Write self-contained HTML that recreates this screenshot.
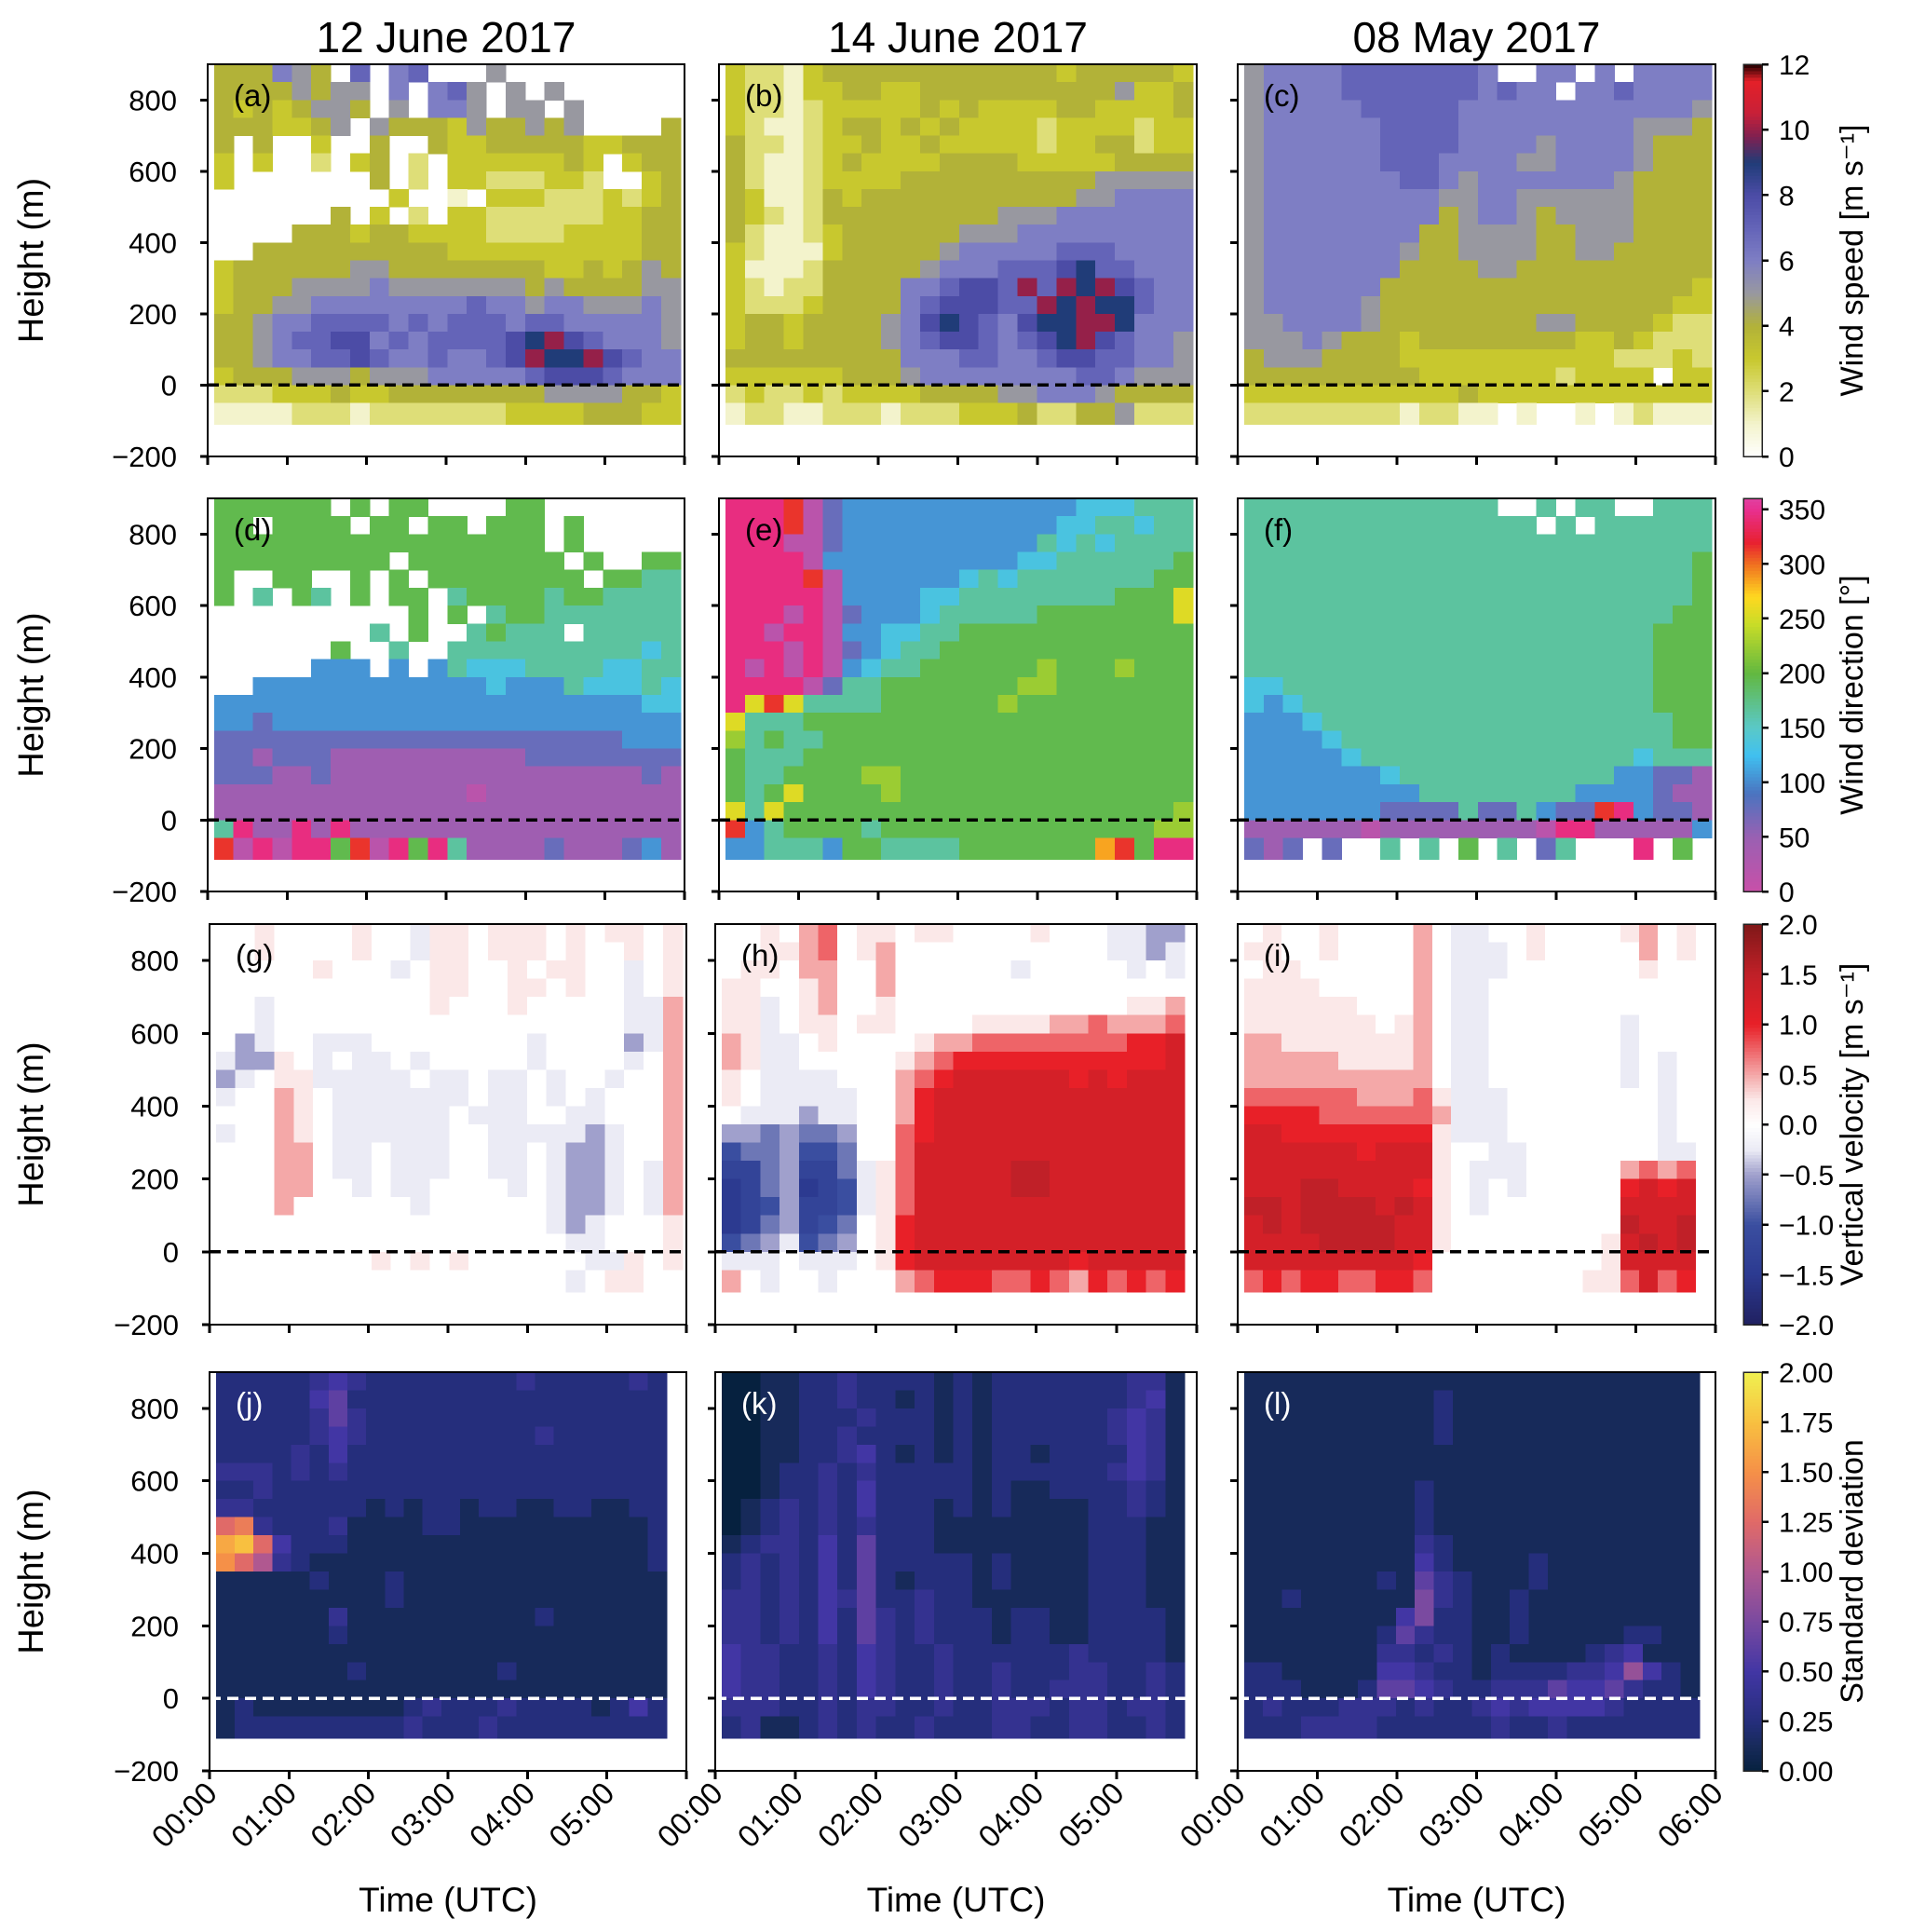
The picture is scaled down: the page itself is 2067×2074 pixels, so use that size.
<!DOCTYPE html>
<html><head><meta charset="utf-8"><style>
html,body{margin:0;padding:0;background:#fff;}
svg{display:block;}
text{font-family:"Liberation Sans","DejaVu Sans",sans-serif;}
</style></head><body>
<svg id="fig" width="2067" height="2074" viewBox="0 0 2067 2074" xmlns="http://www.w3.org/2000/svg" shape-rendering="crispEdges"></svg>
<script>
// ---------------- DATA (rows top=900m down to bottom -110m, 24 time columns) ----------------
const speedA = ["444654.7.67...5.........","44445455.6.675.5.5......","43434554.5.665.55.5.....","4443345.54443544545....4","4.4..3..4..4334444433444","3.3..2.34.2.33333343.344","3.......4.2.33222332..34",".........3..1.3332223234","......4.3.2.332222223344","....44434433332222333344","..4444444444333333333344","344444455444444443343454","344455556555555545444455","344556666666676656655565","445667777676777677666665","44567788676777789a876665","4456677876676678a99a8766","344455545556666678887666","222333433444444445555443","111122212222222333344433"];
const speedB = ["322134444444444443444443","322133443344444444445334","322123333343433334433334","321123443434333323333233","422123343343333323344233","421123433334444333334444","421123333444444444455555","431124344444444444556666","432124444444445556666666","421123444444555666666666","321113444445666667776666","311124444456667778977666","321224444667887a7a9a8766","3222344446788877a9a99766","344344445689876899aa9666","344344445678876789a87665","444444444666776678877665","333333444566666666776555","232232333344445566654444","122112221222333422445222"];
const speedC = ["5666677777776..66.6.6666","5666677777776766.6676666","566666777776666666666665","566666677776666666665554","566666677776666566665444","566666677766665566665444","566666667765666666654444","566666666655665555554444","566666666645665455554444","566666666445555445554444","566666665445555445544444","566666664444554444444444","566666644444444444444443","566666544444444444444433","556666544444444554444322","555654443444444443343222","455544443333333333322232","444444444333333323333.33","333333333334333333333333","2222222212211.1..1.12111"];
const dirD = ["666666.6.66....66.......","66.6666.66.66.666.6.....","66666666666666666.6.....","666666666.66666666.6..66","6..66..6.6.66666666.6655","6.5.65.6.66.566665665555","..........6.6.5665555555","........5.6..56555.55555","......6..5..555555555545",".....333.3.3544455554455","..3333333333334333544454","333333333333333333333344","332333333333333333333333","222222222222222222222333","221222111111111122222222","222112111111111111111121","111111111111101111111111","111111111111111111111111","5b11b1b11111111111111111","a0b0bb6a0b6b511112111231"];
const dirE = ["bbba02333333333333444555","bbba02333333333334455455","bbb002333333333354545555","bbbb03333333333445555556","bbbba0333333454555555566","bbbbb0333344555555556668","bbb0b0233345555566666668","bb0bb0334455666666666666","bbb0b0234556666666666666","b0b0b0345566666676667666","bbbb02556666666776666666","b8a855556666667666666666","855566666666666666666666","756556666666666666666666","655566666666666666666666","655666677666666666666666","656866667666666666666666","858666666666666666666667","a35666656666666666666677","33555366555566666669a6bb"];
const dirF = ["5555555555555..5.55..555","555555555555555.5.555555","555555555555555555555555","555555555555555555555556","555555555555555555555556","555555555555555555555556","555555555555555555555566","555555555555555555555666","555555555555555555555666","555555555555555555555666","445555555555555555555666","434555555555555555555666","333455555555555555555566","333345555555555555555566","333334555555555555554555","333333345555555555533221","333333333555555553333211","333333322225225322ab3221","1111110111111110bb111113","212.2..5.5.6.5.25...b.6."];
const vvG = ["IIJIIIIJIIHJJIJJJIJIJJIJ","IIJIIIIJIIHJJIJJJIJIIJIJ","IIIIIJIIIHIJJIIJIJJIIHIJ","IIIIIIIIIIIJJIIJJIJIIHIJ","IIHIIIIIIIIJIIIJIIIIIHHK","IIHIIIIIIIIIIIIIIIIIIHHK","IGHIIHHHIIIIIIIIHIIIIGHK","HGGJIHIHHIHIIIIIHIIIIHIK","GHIJJHHHHHIHHIHHIHIIHIIK","HIIKJIHHHHHHHIHHIHIHIIIK","IIIKJIHHHHHHIHHHIIHHIIIK","HIIKJIHHHHHHIIHHHHHGHIIK","IIIKKIHHIHHHIIHHIHGGHIIK","IIIKKIHHIHHHIIHHIHGGHIHK","IIIKKIIHIHHIIIIHIHGGHIHK","IIIKIIIIIIHIIIIIIHGGHIHK","IIIIIIIIIIIIIIIIIHGHIIIJ","IIIIIIIIIIIIIIIIIIHHIIIJ","IIIIIIIIJIJIJIIIIIIHHJIJ","IIIIIIIIIIIIIIIIIIHIJJII"];
const vvH = ["IIJIKLIJJIJJIIIIJIIIHHGG","IIJJKLIJKIIIIIIIIIIIHHGH","IJJIKKIIKIIIIIIHIIIIIHIH","JJIIJKIIKIIIIIIIIIIIIIII","JJHIJKIIJIIIIIIIIIIIIJJK","JJHIJJIJJIIIIJJJJKKLKKKL","KJHHIJIIIIJKKLLLLLLLLMMN","KJHHIIIIIJKLMMMMMMMMMMMN","JIHHHHIIIKLMNNNNNNMNMNNN","JIHHHHHIIKMNNNNNNNNNNNNN","IHHHGHHIIKMNNNNNNNNNNNNN","GGFGFFGIILMNNNNNNNNNNNNN","EFFGEEFIILNNNNNNNNNNNNNN","DDFGDDFHJLNNNNNOONNNNNNN","CDFGCDEHJLNNNNNOONNNNNNN","CDEGDDEHJLNNNNNNNNNNNNNN","CDFGDEFIJMNNNNNNNNNNNNNN","EFGHEFGIJMNNNNNNNNNNNNNN","HHHIHHHIJMNNNNNNNNMNNNNN","KIHIIHIIIKLMMMLLMLKMLMLM"];
const vvI = ["IJIIJIIIIKIHHIIJIIIIJKIJ","JJIIJIIIIKIHHHIJIIIIIKIJ","IJJIIIIIIKIHHHIIIIIIIJII","JJJJIIIIIKIHHIIIIIIIIIII","JJJJJJIIIKIHHIIIIIIIIIII","JJJJJJJIJKIHHIIIIIIIHIII","KKJJJJJJJKIHHIIIIIIIHIII","KKKKKJJJJKIHHIIIIIIIHIHI","KKKKKKKKKKIHHIIIIIIIHIHI","LLLLLLKKKLJHHHIIIIIIIIHI","MMMMLLLLLLKHHHIIIIIIIIHI","NNMMMMMMMMJHHHIIIIIIIIHI","NNNNNNMNNNJIIHHIIIIIIIHH","NNNNNNNNNNJIHHHIIIIIKLKL","NNNOONNNNMJIHIHIIIIIMNMN","OONOOOONONJIHIIIIIIINNNN","NONOOOOONNJIIIIIIIIIONNO","NNNNOOOONNJIIIIIIIIJNONO","NNNNNNNNNMIIIIIIIIIJNNNN","LMLMMLLMMLIIIIIIIIJJLNLM"];
const sdJ = ["CCCCCDEDCCCCCCCCDCCCCCDC","CCCCCEFCCCCCCCCCCCCCCCCC","CCCCCDFDCCCCCCCCCCCCCCCC","CCCCCDEDCCCCCCCCCDCCCCCC","CCCCDCECCCCCCCCCCCCCCCCC","DDDCDCDCCCCCCCCCCCCCCCCC","CCDCCCCCCCCCCCCCCCCCCCCC","DDCCCCCCBCBCCBCCBBCCBBCC","KLDCCCDBBBBCCBBBBBBBBBBC","NOKECCCBBBBBBBBBBBBBBBBC","MKIDCBBBBBBBBBBBBBBBBBBC","BBBBBCBBBCBBBBBBBBBBBBBB","BBBBBBBBBCBBBBBBBBBBBBBB","BBBBBBDBBBBBBBBBBCBBBBBB","BBBBBBCBBBBBBBBBBBBBBBBB","BBBBBBBBBBBBBBBBBBBBBBBB","BBBBBBBCBBBBBBBCBBBBBBBB","BBBBBBBBBBBBBBBBBBBBBBBB","BCBBBBBBBBCDCCCDCCCCBCEC","BCCCCCCCCCDCCCDCCCCCCCCC"];
const sdK = ["AABBCCDCCCCBCBCCCCCCCDDB","AABBCCDCCBCBCBCCCCCCCDEB","AABBCCCDCCCBCBCCCCCCDEDB","AABBCCDCCCCBCBCCCCCCDEDB","AABBCCDECBCBCBCCBCCCCEDB","AABCCDCDCCCCCBCCCCCCDEDB","AABCCDCECCCCCBCBBCCCCDCB","ABCDCDCECCCBCBCBBBBCCDCB","ABCDCDCDCCCBBBBBBBBCCCBB","BCDDCECFCCCBBBBBBBBCCCBB","CDCDCECFCCCCCBCBBBBCCCBB","CDCDCECFCBCCCBCBBBBCCCBB","DDCDCEDFCCDCCBBBBBBCCCBB","DDCDCECFDCDCCCBCCBBCCCCB","DDCDCECFDCDCCCBCCBBCCCCB","EDDCCDCEDCCDCCCCCCDCCCCB","EDDCCDCEDCCDCCDCCCDDCCDC","EDDCCDCEDCCDCCDCCDDDCCDC","DDDCCDCDDCCDCCDDDCDDCDDC","CDBBCDCDCCDCCCDDCCDDCCDC"];
const sdL = ["BBBBBBBBBBBBBBBBBBBBBBBB","BBBBBBBBBBCBBBBBBBBBBBBB","BBBBBBBBBBCBBBBBBBBBBBBB","BBBBBBBBBBCBBBBBBBBBBBBB","BBBBBBBBBBBBBBBBBBBBBBBB","BBBBBBBBBBBBBBBBBBBBBBBB","BBBBBBBBBCBBBBBBBBBBBBBB","BBBBBBBBBCBBBBBBBBBBBBBB","BBBBBBBBBCBBBBBBBBBBBBBB","BBBBBBBBBDCBBBBBBBBBBBBB","BBBBBBBBBECBBBBCBBBBBBBB","BBBBBBBCBFDCBBBCBBBBBBBB","BBCBBBBBBGDCBBCBBBBBBBBB","BBBBBBBBEGCCBBCBBBBBBBBB","BBBBBBBCFDCCBBCBBBBBCCBB","BBBBBBBDDCDCBCBBBBCDEBBB","CCBBBBBEEDCCBCCCCDDEHECB","CCCBBBCFFEDCCDDDFEEFDCCB","CDCCCDDDCDCCDEDEEEEDCCCC","CCCDDDDCCCCCCDCCDCCCCCCC"];
const yTicks = [-200,0,200,400,600,800];
const xTicks = [0,1,2,3,4,5,6];
const xTickLabels = ["00:00","01:00","02:00","03:00","04:00","05:00","06:00"];
const colTitles = ["12 June 2017","14 June 2017","08 May 2017"];
const panelLetters = ["(a)","(b)","(c)","(d)","(e)","(f)","(g)","(h)","(i)","(j)","(k)","(l)"];
const speedTicks = [0,2,4,6,8,10,12];
const dirTicks = [0,50,100,150,200,250,300,350];
const vvTicks = [-2.0,-1.5,-1.0,-0.5,0.0,0.5,1.0,1.5,2.0];
const sdTicks = [0,0.25,0.5,0.75,1.0,1.25,1.5,1.75,2.0];

const NS="http://www.w3.org/2000/svg";
const svg=document.getElementById('fig');
function mk(tag,attrs,parent){const e=document.createElementNS(NS,tag);for(const k in attrs)e.setAttribute(k,attrs[k]);(parent||svg).appendChild(e);return e;}
function hex(h){return [parseInt(h.slice(1,3),16),parseInt(h.slice(3,5),16),parseInt(h.slice(5,7),16)];}
function cmap(stops){return v=>{if(v<=stops[0][0])return stops[0][1];for(let i=1;i<stops.length;i++){if(v<=stops[i][0]){const a=stops[i-1],b=stops[i];const f=(v-a[0])/(b[0]-a[0]);const ca=hex(a[1]),cb=hex(b[1]);return 'rgb('+ca.map((c,j)=>Math.round(c+(cb[j]-c)*f)).join(',')+')';}}return stops[stops.length-1][1];};}
const cmSpeed=cmap([[0,'#ffffff'],[1,'#f3f3cc'],[2,'#dede78'],[3,'#c8c82e'],[4,'#b2b238'],[5,'#9898a0'],[6,'#7e7ec4'],[7,'#6464b8'],[8,'#4c4ca6'],[9,'#203c78'],[9.8,'#802050'],[10.5,'#c82038'],[11.5,'#e42028'],[12,'#200000']]);
const cmDir=cmap([[0,'#c84fa8'],[50,'#9a60b2'],[90,'#4a74c0'],[125,'#40c0f0'],[150,'#5ac8c8'],[200,'#62b840'],[245,'#c8dc28'],[270,'#ffd820'],[300,'#f07020'],[320,'#e82030'],[350,'#e83090'],[360,'#e040a0']]);
const cmVV=cmap([[-2,'#202060'],[-1.5,'#2c3a90'],[-1,'#3a4ea0'],[-0.5,'#a0a0cc'],[-0.25,'#ebebf5'],[0,'#ffffff'],[0.25,'#fbe8e8'],[0.5,'#f4a8a8'],[1,'#e82028'],[1.5,'#c02028'],[2,'#801818']]);
const cmSD=cmap([[0,'#06213f'],[0.125,'#172a5a'],[0.25,'#252e7c'],[0.5,'#4236a4'],[0.75,'#7a4aa0'],[1.0,'#b05890'],[1.25,'#e06a68'],[1.5,'#f59048'],[1.75,'#f8c040'],[2,'#f0f050']]);
const dec={
 speed:c=>c==='.'?null:parseInt(c,16),
 dir:c=>c==='.'?null:parseInt(c,16)*30+15,
 vv:c=>c==='.'?null:(c.charCodeAt(0)-73)*0.25,
 sd:c=>c==='.'?null:(c.charCodeAt(0)-65)*0.125
};

const colX=[[223,735],[772,1285],[1329,1842]];
const colX2=[[225,737],[768,1285],[1329,1842]];
const rowY=[[69,490],[535,957],[992,1422],[1473,1901]];
const panels=[
 {d:speedA,k:'speed',cm:cmSpeed,t1:5.95},{d:speedB,k:'speed',cm:cmSpeed,t1:5.95},{d:speedC,k:'speed',cm:cmSpeed,t1:5.95},
 {d:dirD,k:'dir',cm:cmDir,t1:5.95},{d:dirE,k:'dir',cm:cmDir,t1:5.95},{d:dirF,k:'dir',cm:cmDir,t1:5.95},
 {d:vvG,k:'vv',cm:cmVV,t1:5.95},{d:vvH,k:'vv',cm:cmVV,t1:5.85},{d:vvI,k:'vv',cm:cmVV,t1:5.75},
 {d:sdJ,k:'sd',cm:cmSD,t1:5.75},{d:sdK,k:'sd',cm:cmSD,t1:5.85},{d:sdL,k:'sd',cm:cmSD,t1:5.8}
];

colTitles.forEach((t,i)=>{const e=mk('text',{x:(colX[i][0]+colX[i][1])/2,y:56,'text-anchor':'middle','font-size':46},svg);e.textContent=t;

});

panels.forEach((p,idx)=>{
 const r=Math.floor(idx/3),c=idx%3;
 const [x0,x1]=(r>=2?colX2:colX)[c];const [y0,y1]=rowY[r];
 const xs=t=>x0+(t/6)*(x1-x0);
 const ys=v=>y0+(900-v)/1100*(y1-y0);
 const g=mk('g',{},svg);
 
 
 const rows=p.d.length, ncol=24, t0=0.08;
 for(let ri=0;ri<rows;ri++){
  const top=900-50*ri, bot=(ri===rows-1)?-110:900-50*(ri+1);
  const s=p.d[ri];
  for(let ci=0;ci<ncol;ci++){
   const ch=s[ci]||'.';const v=dec[p.k](ch);if(v===null||isNaN(v))continue;
   const ta=t0+(p.t1-t0)*ci/ncol, tb=t0+(p.t1-t0)*(ci+1)/ncol;
   const xa=xs(ta),xb=xs(tb),ya=ys(top),yb=ys(bot);
   const cell=mk('rect',{x:xa.toFixed(2),y:ya.toFixed(2),width:(xb-xa+0.6).toFixed(2),height:(yb-ya+0.6).toFixed(2),fill:p.cm(v)},g);
   
   
  }
 }
 const zl=mk('line',{x1:x0,x2:x1,y1:ys(0),y2:ys(0),stroke:r===3?'#fff':'#000','stroke-width':3.5,'stroke-dasharray':'12 7'},g);
 
 
 const fr=mk('rect',{x:x0,y:y0,width:x1-x0,height:y1-y0,fill:'none',stroke:'#000','stroke-width':2},g);
 
 
 yTicks.forEach(v=>{mk('line',{x1:x0-8,x2:x0,y1:ys(v),y2:ys(v),stroke:'#000','stroke-width':3},g);
  if(c===0){const tl=mk('text',{x:x0-33,y:ys(v)+11,'text-anchor':'end','font-size':31},g);tl.textContent=(v<0?'\u2212'+(-v):''+v);
  
  }
 });
 xTicks.forEach((t,i)=>{mk('line',{x1:xs(t),x2:xs(t),y1:y1,y2:y1+9,stroke:'#000','stroke-width':3},g);
  if(r===3){const lx=xs(t)+10,ly=y1+26;const tl=mk('text',{x:lx,y:ly,'text-anchor':'end','font-size':33,transform:'rotate(-45 '+lx+' '+ly+')'},g);tl.textContent=xTickLabels[i];
  
  
  if(c<2 && i===6) tl.textContent='';}
 });
 const pl=mk('text',{x:x0+28,y:y0+45,'font-size':33,fill:r===3?'#fff':'#000'},g);pl.textContent=panelLetters[idx];
 
 
 if(c===0){const cy=(y0+y1)/2;const yl=mk('text',{x:46,y:cy,'text-anchor':'middle','font-size':38,transform:'rotate(-90 46 '+cy+')'},svg);yl.textContent='Height (m)';
  
  }
 if(r===3){const xl=mk('text',{x:(x0+x1)/2,y:2052,'text-anchor':'middle','font-size':37},svg);xl.textContent='Time (UTC)';
  
  }
});

const cbars=[
 {cm:cmSpeed,lo:0,hi:12,ticks:speedTicks,fmt:v=>''+v,title:'Wind speed [m s⁻¹]'},
 {cm:cmDir,lo:0,hi:360,ticks:dirTicks,fmt:v=>''+v,title:'Wind direction [°]'},
 {cm:cmVV,lo:-2,hi:2,ticks:vvTicks,fmt:v=>(v<0?'\u2212':'')+Math.abs(v).toFixed(1),title:'Vertical velocity [m s⁻¹]'},
 {cm:cmSD,lo:0,hi:2,ticks:sdTicks,fmt:v=>v.toFixed(2),title:'Standard deviation'}
];
cbars.forEach((cb,r)=>{
 const [y0,y1]=rowY[r];const x0=1872,x1=1892;
 const g=mk('g',{},svg);
 
 
 const n=120;
 for(let i=0;i<n;i++){const v=cb.lo+(cb.hi-cb.lo)*(i+0.5)/n;const ya=y1-(i+1)*(y1-y0)/n;
  mk('rect',{x:x0,y:ya.toFixed(2),width:x1-x0,height:((y1-y0)/n+0.6).toFixed(2),fill:cb.cm(v)},g);}
 mk('rect',{x:x0,y:y0,width:x1-x0,height:y1-y0,fill:'none',stroke:'#222','stroke-width':1.5},g);
 cb.ticks.forEach(v=>{const y=y1-(v-cb.lo)/(cb.hi-cb.lo)*(y1-y0);
  mk('line',{x1:x1,x2:x1+7,y1:y,y2:y,stroke:'#000','stroke-width':2.5},g);
  const t=mk('text',{x:x1+18,y:y+11,'font-size':30,'font-family':'DejaVu Sans'},g);t.textContent=cb.fmt(v);
  
  });
 const cy=(y0+y1)/2;const tt=mk('text',{x:2000,y:cy,'text-anchor':'middle','font-size':34,transform:'rotate(-90 2000 '+cy+')'},g);tt.textContent=cb.title;
 
 
});
</script>
</body></html>
